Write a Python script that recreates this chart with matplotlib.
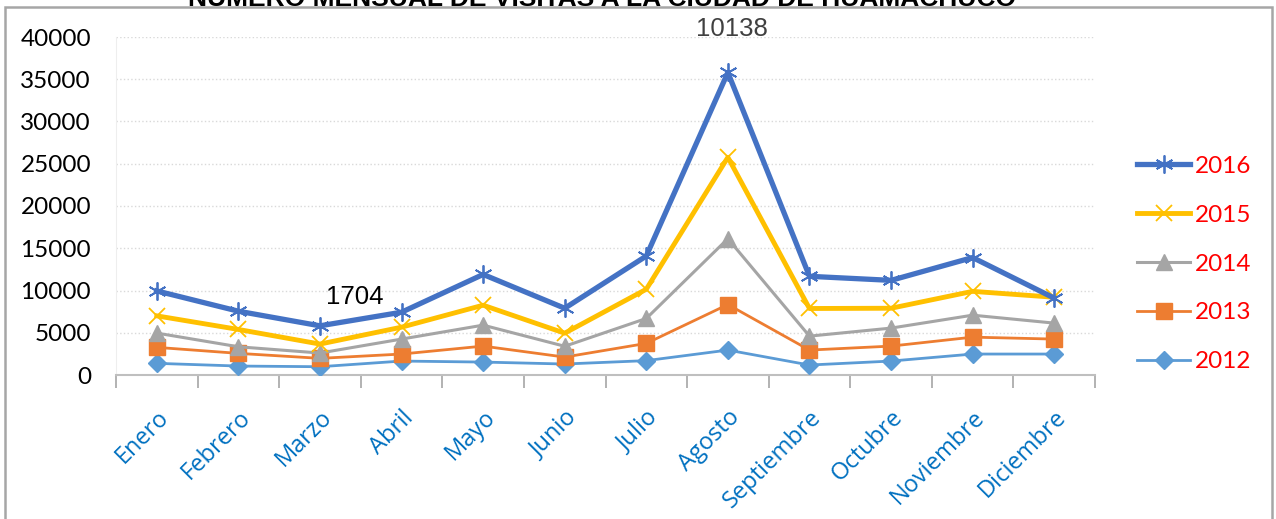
import matplotlib.pyplot as plt
from matplotlib.patches import Rectangle

# monthly visits
meses = ["Enero", "Febrero", "Marzo", "Abril", "Mayo", "Junio", "Julio",
         "Agosto", "Septiembre", "Octubre", "Noviembre", "Diciembre"]
v2012 = [1380, 1060, 980, 1650, 1530, 1300, 1700, 2950, 1180, 1650, 2480, 2480]
v2013 = [3270, 2560, 1970, 2480, 3420, 2120, 3740, 8340, 2950, 3420, 4480, 4250]
v2014 = [4960, 3340, 2600, 4250, 5900, 3400, 6690, 16130, 4600, 5550, 7080, 6140]
v2015 = [7000, 5390, 3660, 5660, 8260, 4950, 10150, 25760, 7870, 7900, 9900, 9200]
v2016 = [9950, 7550, 5820, 7430, 11900, 7900, 14080, 35800, 11680, 11200, 13900, 9100]

W, H = 1276, 519
fig = plt.figure(figsize=(W / 100, H / 100), dpi=100)
ax = fig.add_axes([116 / W, 1 - 375 / H, (1095 - 116) / W, (375 - 37) / H])

x = list(range(len(meses)))
ax.plot(x, v2012, color="#5b9bd5", lw=2, marker="D", ms=9, label="2012", zorder=3)
ax.plot(x, v2013, color="#ed7d31", lw=2, marker="s", ms=11, label="2013", zorder=3)
ax.plot(x, v2014, color="#a5a5a5", lw=2.2, marker="^", ms=12, label="2014", zorder=3)
ax.plot(x, v2015, color="#ffc000", lw=3.5, marker="x", ms=12, mew=1.3, label="2015", zorder=3)
ax.plot(x, v2016, color="#4472c4", lw=3.8, marker=(6, 2, 0), ms=13, mew=1.3, label="2016", zorder=3)

ax.set_xlim(-0.5, 11.5)
ax.set_ylim(0, 40000)
ax.set_yticks(range(0, 40001, 5000))
ax.grid(axis="y", color="#d9d9d9", ls=":", lw=1)
ax.set_axisbelow(True)

for s in ["top", "right"]:
    ax.spines[s].set_visible(False)
ax.spines["left"].set_color("#eeeeee")
ax.spines["bottom"].set_color("#bfbfbf")
ax.spines["bottom"].set_linewidth(1.5)

ax.set_xticks([i - 0.5 for i in range(13)], minor=False)
ax.set_xticklabels([])
ax.set_xticks(x, minor=True)
ax.set_xticklabels(meses, minor=True, rotation=45, ha="right", rotation_mode="anchor",
                   color="#0070c0", fontsize=17, family="Open Sans")
ax.tick_params(axis="x", which="major", length=9, color="#a6a6a6", width=1.2)
ax.tick_params(axis="x", which="minor", length=0, pad=22)
ax.tick_params(axis="y", length=0, pad=18, labelsize=17.5)
for t in ax.get_yticklabels():
    t.set_family("Lato")

ax.text(2.43, 9200, "1704", fontsize=18.5, ha="center", va="center", family="Liberation Sans")
ax.text(7.05, 41000, "10138", fontsize=18.5, ha="center", va="center", color="#404040",
        family="Liberation Sans", clip_on=False)

h, l = ax.get_legend_handles_labels()
leg = fig.legend(h[::-1], l[::-1], loc="center left", bbox_to_anchor=(1120 / W, 1 - 264 / H),
                 frameon=False, labelcolor="#ff0000", handlelength=2.2,
                 labelspacing=1.15, handletextpad=0.2, borderpad=0.2,
                 prop={"family": "Lato", "size": 17.5})

# outer chart frame and clipped title
fig.patches.append(Rectangle((5 / W, -0.01), (1272 - 5) / W, 1.01 - 7 / H,
                             transform=fig.transFigure, fill=False,
                             edgecolor="#a6a6a6", lw=1.8))
fig.text(602 / W, 1 - 6 / H, "NÚMERO MENSUAL DE VISITAS A LA CIUDAD DE HUAMACHUCO",
         ha="center", va="baseline", fontsize=19, fontweight="heavy",
         family="Liberation Sans")

fig.savefig("out.png", dpi=100)
